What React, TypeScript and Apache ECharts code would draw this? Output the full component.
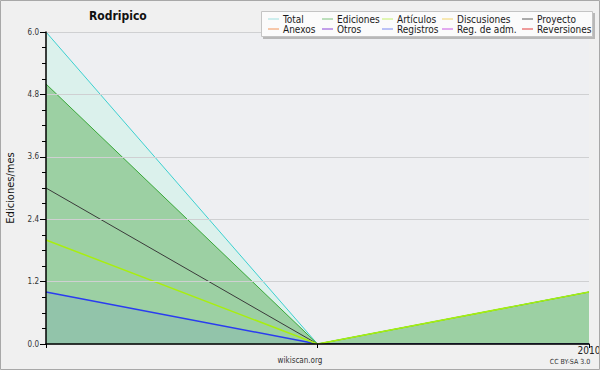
import React, { useEffect, useRef } from "react";
import * as echarts from "echarts";

const months = ["2009-11", "2009-12", "2010-01"];
const xLabels = ["", "", "2010"];
const totalData = [6, 0, 1];
const edicionesData = [5, 0, 1];
const articulosData = [2, 0, 1];
const proyectoData = [3, 0, 0];
const registrosData = [1, 0, 0];

const legendNames = [
  "Total", "Ediciones", "Artículos", "Discusiones", "Proyecto",
  "Anexos", "Otros", "Registros", "Reg. de adm.", "Reversiones",
];
const legendColors = [
  "#9fe0e0", "#7cc27c", "#c4f06a", "#f2d46a", "#5a5a5a",
  "#f29458", "#8a44d8", "#7a88f2", "#c858e4", "#e23a3a",
];

const FONT = "'DejaVu Sans Condensed', 'DejaVu Sans', sans-serif";

export default function App() {
  const ref = useRef<HTMLDivElement>(null);
  useEffect(() => {
    document.body.style.margin = "0";
    const chart = echarts.init(ref.current!, null, { renderer: "svg" });
    const colX = [268, 322, 382, 442, 522];
    const rowY = [19, 29];
    const legendItems: any[] = [];
    legendNames.forEach((name, i) => {
      const c = i % 5;
      const r = Math.floor(i / 5);
      legendItems.push({
        type: "line",
        shape: { x1: colX[c], y1: rowY[r], x2: colX[c] + 11, y2: rowY[r] },
        style: { stroke: legendColors[i], lineWidth: 1 },
        z: 20,
      });
      legendItems.push({
        type: "text",
        x: colX[c] + 15,
        y: rowY[r],
        style: {
          text: name,
          font: `10px ${FONT}`,
          fill: "#1a1a1a",
          textVerticalAlign: "middle",
          verticalAlign: "middle",
        },
        z: 20,
      });
    });
    chart.setOption({
      animation: false,
      backgroundColor: "#f0f0f0",
      textStyle: { fontFamily: FONT },
      title: {
        text: "Rodripico",
        left: 84,
        top: 5,
        textStyle: { fontSize: 12, fontWeight: "bold", color: "#111", fontFamily: FONT },
      },
      grid: {
        left: 46, right: 11, top: 32, bottom: 26,
        containLabel: false,
        outerBoundsMode: "none",
        show: true, backgroundColor: "#eeeff2", borderWidth: 0,
      },
      xAxis: {
        type: "category",
        data: months,
        boundaryGap: false,
        z: 10,
        axisLine: { lineStyle: { color: "#000", width: 1.5 } },
        axisTick: { show: true, length: 4, lineStyle: { color: "#000" }, alignWithLabel: true },
        axisLabel: {
          formatter: (_v: string, idx: number) => xLabels[idx],
          color: "#222",
          fontSize: 10,
          margin: 1,
          showMaxLabel: true,
          align: "center",
        },
        splitLine: { show: false },
      },
      yAxis: {
        type: "value",
        min: 0,
        max: 6,
        interval: 1.2,
        z: 10,
        name: "Ediciones/mes",
        nameLocation: "middle",
        nameGap: 30,
        nameTextStyle: { fontSize: 11, color: "#111", fontFamily: FONT },
        axisLine: { show: true, lineStyle: { color: "#000", width: 1.5 } },
        axisTick: { show: true, length: 6, lineStyle: { color: "#000" } },
        minorTick: { show: true, splitNumber: 4, length: 4, lineStyle: { color: "#000" } },
        axisLabel: {
          formatter: (v: number) => v.toFixed(1),
          color: "#333",
          fontSize: 8,
          margin: 7,
        },
        splitLine: { show: true, lineStyle: { color: "#cfd0d2", width: 1 } },
      },
      series: [
        {
          name: "Total", type: "line", data: totalData, symbol: "none",
          lineStyle: { color: "#3cd0d0", width: 1 },
          areaStyle: { color: "rgba(150,250,215,0.3)" },
          z: 1,
        },
        {
          name: "Ediciones", type: "line", data: edicionesData, symbol: "none",
          lineStyle: { color: "#38a838", width: 1 },
          areaStyle: { color: "rgba(40,145,30,0.5)" },
          z: 2,
        },
        {
          name: "Registros", type: "line", data: registrosData, symbol: "none",
          lineStyle: { color: "#2a3cf0", width: 1.5 },
          areaStyle: { color: "rgba(40,70,255,0.12)" },
          z: 3,
        },
        {
          name: "Proyecto", type: "line", data: proyectoData, symbol: "none",
          lineStyle: { color: "#3a3a3a", width: 1 },
          z: 4,
        },
        {
          name: "Artículos", type: "line", data: articulosData, symbol: "none",
          lineStyle: { color: "#a8ee10", width: 1.5 },
          z: 5,
        },
      ],
      graphic: [
        {
          type: "rect",
          shape: { x: 0.5, y: 0.5, width: 599, height: 369 },
          style: { fill: "none", stroke: "#a8a8a8", lineWidth: 1 },
          z: 30,
        },
        {
          type: "rect",
          shape: { x: 263, y: 13, width: 332, height: 26 },
          style: { fill: "#b8b8b8", stroke: "none" },
          z: 18,
        },
        {
          type: "rect",
          shape: { x: 261.5, y: 11.5, width: 331, height: 25 },
          style: { fill: "#fbfbfb", stroke: "#c4c4c4", lineWidth: 1 },
          z: 19,
        },
        ...legendItems,
        {
          type: "text",
          x: 300,
          y: 360,
          style: {
            text: "wikiscan.org",
            font: `8px ${FONT}`,
            fill: "#333",
            textAlign: "center",
            textVerticalAlign: "middle",
            align: "center",
            verticalAlign: "middle",
          },
        },
        {
          type: "text",
          x: 570,
          y: 362,
          style: {
            text: "CC BY-SA 3.0",
            font: `7px ${FONT}`,
            fill: "#333",
            textAlign: "center",
            textVerticalAlign: "middle",
            align: "center",
            verticalAlign: "middle",
          },
        },
      ],
    });
    return () => chart.dispose();
  }, []);
  return (
    <div
      ref={ref}
      style={{ width: 600, height: 370, position: "absolute", left: 0, top: 0 }}
    />
  );
}
